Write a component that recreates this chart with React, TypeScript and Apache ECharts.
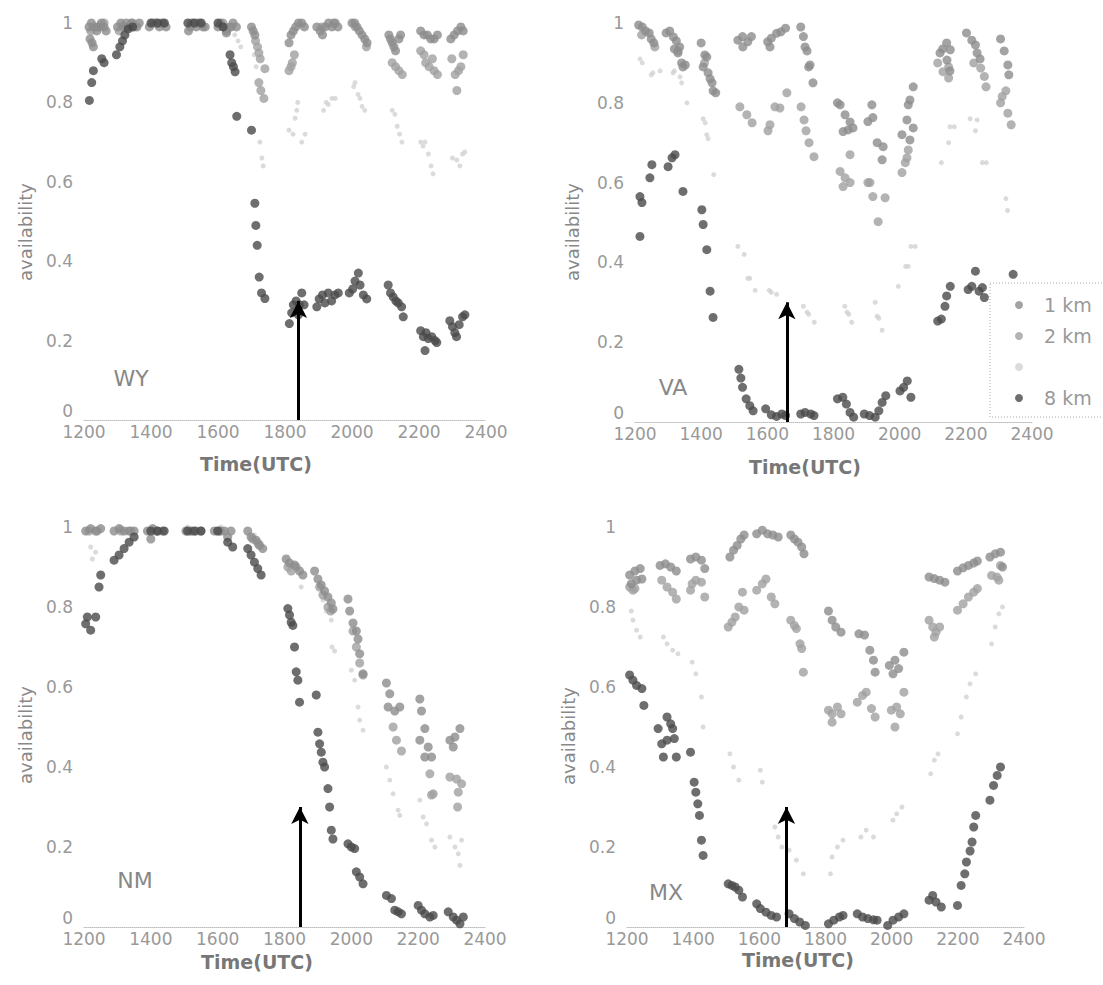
import React, { useEffect, useRef } from "react";
import * as echarts from "echarts";

// ---------- data (time in HHMM UTC, availability 0..1) ----------
const seriesNames = ["1 km", "2 km", " ", "8 km"];
const panelNames = ["WY", "VA", "NM", "MX"];
const arrowX = [1840, 1659, 1846, 1682];
const arrowTop = [0.3, 0.3, 0.3, 0.3];

const wy1 = [[1215,0.99],[1222,1.0],[1230,0.99],[1238,0.98],[1245,0.99],[1252,1.0],[1260,0.99],[1266,0.98],[1218,0.96],[1224,0.95],[1228,0.94],
[1300,0.99],[1310,1.0],[1318,0.99],[1326,1.0],[1334,0.99],[1342,1.0],[1350,0.99],[1358,0.99],[1365,1.0],
[1395,0.99],[1405,1.0],[1415,1.0],[1425,0.99],[1435,1.0],[1445,0.99],
[1512,0.98],[1518,0.99],[1525,1.0],[1535,0.99],[1545,1.0],[1555,0.99],[1562,0.99],
[1600,0.99],[1608,1.0],[1618,0.99],[1626,0.98],[1635,0.99],[1645,1.0],[1655,0.99],[1625,0.975],
[1700,0.99],[1705,0.98],[1710,0.97],
[1812,0.95],[1818,0.97],[1825,0.98],[1832,0.99],[1840,1.0],[1850,1.0],[1858,0.99],
[1895,0.99],[1905,0.98],[1912,0.97],[1920,0.99],[1930,1.0],[1940,0.99],[1950,1.0],[1958,0.99],
[2000,1.0],[2008,1.0],[2015,0.99],[2022,0.98],[2030,0.97],[2038,0.96],[2045,0.95],
[2110,0.97],[2115,0.96],[2120,0.95],[2125,0.94],[2130,0.93],[2140,0.96],[2145,0.97],
[2205,0.98],[2215,0.97],[2225,0.97],[2235,0.96],[2245,0.96],[2255,0.97],
[2295,0.96],[2305,0.97],[2315,0.98],[2325,0.99],[2332,0.98]];
const wy2 = [[1220,0.98],[1240,0.99],[1260,1.0],[1305,0.98],[1325,0.99],[1345,1.0],[1410,1.0],[1430,1.0],[1520,1.0],[1540,1.0],[1615,1.0],[1640,0.99],
[1712,0.955],[1718,0.94],[1722,0.925],[1726,0.91],[1740,0.885],[1722,0.85],[1728,0.83],[1737,0.81],
[1812,0.88],[1818,0.89],[1822,0.90],[1828,0.92],
[1910,0.99],[1945,1.0],[2010,0.99],[2043,0.94],
[2120,0.90],[2130,0.89],[2140,0.88],[2150,0.87],
[2205,0.93],[2215,0.92],[2220,0.90],[2230,0.89],[2240,0.91],[2245,0.88],[2255,0.87],
[2298,0.91],[2332,0.92],[2318,0.88],[2308,0.87],[2313,0.83],[2325,0.89]];
const wy4 = [[1215,0.98],[1228,0.99],[1245,1.0],[1310,1.0],[1335,1.0],[1410,1.0],[1430,1.0],[1520,1.0],[1545,1.0],[1610,1.0],[1632,0.99],[1650,0.97],[1660,0.955],[1668,0.94],[1708,0.92],[1714,0.89],[1725,0.70],[1731,0.66],[1735,0.64],
[1812,0.73],[1824,0.72],[1830,0.76],[1835,0.78],[1838,0.80],[1850,0.70],[1860,0.72],
[1915,0.78],[1923,0.80],[1929,0.795],[1940,0.81],[1950,0.81],
[2005,0.84],[2009,0.85],[2018,0.82],[2024,0.81],[2030,0.79],[2038,0.78],
[2120,0.78],[2128,0.77],[2135,0.74],[2142,0.72],[2149,0.70],
[2205,0.70],[2212,0.69],[2218,0.70],[2228,0.67],[2236,0.64],[2242,0.62],
[2300,0.66],[2313,0.655],[2322,0.64],[2330,0.67],[2337,0.675]];
const wy8 = [[1216,0.805],[1223,0.85],[1228,0.88],[1253,0.91],[1260,0.90],[1297,0.92],[1307,0.94],[1315,0.955],[1322,0.97],[1332,0.985],[1345,0.99],[1400,1.0],[1420,1.0],[1440,1.0],[1510,1.0],[1530,1.0],[1550,1.0],[1600,1.0],[1615,0.99],
[1636,0.92],[1641,0.90],[1646,0.89],[1651,0.877],[1656,0.765],[1700,0.73],[1710,0.546],[1713,0.49],[1717,0.44],[1723,0.36],[1730,0.32],[1740,0.306],
[1813,0.243],[1820,0.27],[1825,0.29],[1833,0.30],[1840,0.265],[1843,0.29],[1850,0.32],[1857,0.29],
[1895,0.285],[1902,0.305],[1912,0.315],[1919,0.295],[1929,0.32],[1939,0.30],[1949,0.315],[1959,0.32],
[1992,0.32],[2002,0.33],[2009,0.35],[2019,0.37],[2024,0.34],[2034,0.315],[2044,0.305],
[2108,0.34],[2115,0.32],[2123,0.31],[2131,0.30],[2138,0.295],[2148,0.285],[2153,0.26],
[2205,0.225],[2213,0.21],[2218,0.175],[2221,0.22],[2228,0.205],[2238,0.21],[2248,0.20],[2253,0.195],
[2292,0.25],[2300,0.235],[2307,0.22],[2312,0.21],[2320,0.24],[2330,0.26],[2337,0.265]];

const va1 = [[1211,0.995],[1222,0.99],[1232,0.98],[1243,0.975],[1249,0.96],[1257,0.95],
[1294,0.975],[1305,0.98],[1316,0.965],[1325,0.955],[1335,0.94],[1319,0.935],[1330,0.925],[1341,0.90],[1345,0.89],[1352,0.895],
[1400,0.95],[1411,0.92],[1417,0.915],[1406,0.89],[1421,0.875],[1427,0.86],[1433,0.85],[1436,0.83],[1444,0.825],
[1511,0.957],[1525,0.966],[1541,0.953],[1552,0.966],[1526,0.94],
[1601,0.953],[1608,0.94],[1612,0.962],[1628,0.974],[1641,0.978],[1655,0.987],
[1701,0.99],[1709,0.966],[1714,0.94],[1720,0.93],[1725,0.89],[1729,0.895],[1738,0.85],
[1812,0.80],[1820,0.795],[1835,0.77],[1850,0.752],[1844,0.732],[1829,0.728],[1859,0.737],
[1916,0.795],[1919,0.763],[1904,0.753],[1932,0.70],[1950,0.69],[1947,0.657],
[2007,0.72],[2031,0.707],[2022,0.757],[2041,0.737],[2041,0.84],[2031,0.807],[2026,0.795],
[2122,0.925],[2130,0.935],[2142,0.95],[2153,0.933],[2143,0.907],[2152,0.88],
[2202,0.975],[2218,0.957],[2229,0.945],[2234,0.925],[2243,0.91],
[2305,0.96],[2316,0.93],[2327,0.895],[2330,0.87]];
const va2 = [[1220,0.97],[1260,0.94],[1330,0.93],[1410,0.90],
[1517,0.79],[1538,0.77],[1554,0.75],[1608,0.745],[1602,0.73],[1623,0.79],[1638,0.787],[1659,0.825],
[1702,0.79],[1711,0.757],[1717,0.73],[1726,0.70],[1741,0.665],
[1820,0.628],[1835,0.612],[1850,0.60],[1829,0.59],[1850,0.67],
[1904,0.60],[1910,0.60],[1919,0.565],[1956,0.562],[1935,0.502],
[2007,0.625],[2017,0.65],[2022,0.662],[2026,0.682],
[2115,0.90],[2131,0.878],[2148,0.862],[2148,0.89],
[2224,0.90],[2245,0.887],[2256,0.866],[2261,0.84],
[2310,0.816],[2321,0.83],[2305,0.80],[2327,0.774],[2337,0.745]];
const va4 = [[1215,0.91],[1222,0.90],[1249,0.87],[1254,0.875],[1276,0.88],[1315,0.875],[1319,0.88],[1336,0.865],[1341,0.85],[1357,0.80],[1406,0.76],[1412,0.75],[1417,0.72],[1421,0.71],[1438,0.62],
[1511,0.44],[1530,0.42],[1541,0.36],[1547,0.36],[1563,0.33],[1606,0.33],[1612,0.325],[1628,0.32],[1709,0.29],[1720,0.275],[1725,0.27],[1742,0.25],
[1834,0.29],[1841,0.275],[1846,0.27],[1855,0.25],[1926,0.30],[1932,0.265],[1937,0.26],[1947,0.23],
[1996,0.34],[2018,0.39],[2026,0.39],[2034,0.44],[2047,0.44],
[2126,0.65],[2148,0.70],[2152,0.74],[2165,0.74],[2213,0.76],[2229,0.73],[2234,0.757],[2250,0.65],[2262,0.65],[2321,0.56],[2326,0.53]];
const va8 = [[1215,0.565],[1221,0.55],[1215,0.465],[1245,0.612],[1251,0.645],[1300,0.64],[1312,0.662],[1321,0.67],[1345,0.578],
[1402,0.532],[1406,0.495],[1417,0.432],[1427,0.328],[1436,0.262],
[1514,0.132],[1520,0.11],[1525,0.087],[1536,0.058],[1547,0.041],[1557,0.028],
[1595,0.033],[1612,0.018],[1628,0.014],[1644,0.02],[1655,0.016],
[1701,0.02],[1714,0.024],[1731,0.02],[1741,0.016],
[1812,0.058],[1828,0.062],[1839,0.045],[1850,0.024],[1861,0.012],
[1893,0.02],[1909,0.016],[1926,0.012],[1937,0.028],[1947,0.049],[1958,0.066],
[2001,0.078],[2012,0.087],[2023,0.103],[2034,0.062],
[2115,0.253],[2126,0.258],[2137,0.29],[2142,0.316],[2153,0.34],
[2207,0.332],[2218,0.34],[2229,0.378],[2240,0.328],[2250,0.337],[2256,0.312],
[2343,0.37]];

const nm1 = [[1205,0.99],[1220,0.996],[1235,0.99],[1250,0.996],
[1290,0.99],[1305,0.996],[1320,0.99],[1335,0.99],[1350,0.99],
[1390,0.99],[1405,0.996],[1420,0.99],[1435,0.99],[1400,0.97],
[1505,0.99],[1520,0.99],[1535,0.99],[1550,0.99],
[1590,0.99],[1605,0.99],[1620,0.99],[1640,0.99],[1630,0.975],
[1690,0.99],[1700,0.975],[1715,0.967],[1725,0.954],[1735,0.946],
[1805,0.92],[1815,0.91],[1830,0.905],[1845,0.89],[1855,0.88],
[1890,0.89],[1900,0.87],[1910,0.855],[1920,0.84],[1930,0.825],[1940,0.81],[1945,0.795],
[1990,0.82],[1995,0.79],[2005,0.76],[2015,0.74],[2020,0.72],[2025,0.683],[2035,0.633],
[2105,0.61],[2115,0.583],[2110,0.55],[2130,0.54],[2145,0.55],
[2205,0.57],[2210,0.54],[2220,0.496],[2205,0.467],[2230,0.45],[2220,0.425],[2240,0.425],
[2295,0.467],[2310,0.475],[2325,0.496],[2305,0.45]];
const nm2 = [[1215,0.99],[1240,0.99],[1310,0.99],[1340,0.99],[1415,0.99],[1520,0.99],[1610,0.99],
[1705,0.97],[1720,0.96],[1810,0.90],[1820,0.89],[1835,0.90],
[1905,0.85],[1915,0.83],[1930,0.80],[1938,0.79],
[2005,0.74],[2015,0.70],[2025,0.66],[2035,0.63],
[2125,0.50],[2135,0.467],[2150,0.44],
[2235,0.383],[2245,0.333],[2240,0.33],
[2295,0.375],[2315,0.37],[2330,0.358],[2320,0.337],[2318,0.30]];
const nm4 = [[1220,0.95],[1235,0.937],[1225,0.92],[1310,1.0],[1410,1.0],[1510,1.0],[1610,1.0],[1710,0.98],[1730,0.96],
[1840,0.90],[1850,0.85],[1915,0.817],[1925,0.79],[1940,0.767],[1942,0.70],[1950,0.69],
[2000,0.642],[2010,0.617],[2020,0.55],[2025,0.517],[2035,0.492],
[2105,0.40],[2115,0.367],[2125,0.333],[2140,0.292],[2145,0.279],
[2205,0.317],[2215,0.275],[2225,0.258],[2240,0.217],[2250,0.20],
[2295,0.225],[2310,0.20],[2320,0.183],[2330,0.217],[2325,0.154]];
const nm8 = [[1205,0.758],[1210,0.775],[1220,0.742],[1235,0.775],[1245,0.85],[1250,0.88],
[1290,0.917],[1305,0.93],[1320,0.946],[1335,0.962],[1350,0.975],
[1400,0.99],[1420,0.99],[1440,0.99],[1510,0.99],[1530,0.99],[1550,0.99],[1600,0.99],[1630,0.962],[1645,0.95],
[1690,0.946],[1700,0.93],[1710,0.912],[1720,0.896],[1730,0.88],
[1810,0.796],[1815,0.78],[1820,0.762],[1825,0.754],[1830,0.70],[1835,0.638],[1840,0.617],[1845,0.562],[1895,0.58],
[1900,0.487],[1905,0.458],[1910,0.437],[1915,0.412],[1920,0.40],[1930,0.346],[1935,0.30],[1940,0.242],[1945,0.22],
[1990,0.208],[2000,0.20],[2010,0.196],[2015,0.138],[2025,0.125],[2035,0.108],
[2105,0.079],[2120,0.071],[2130,0.042],[2140,0.038],[2150,0.033],
[2200,0.054],[2210,0.042],[2220,0.033],[2235,0.025],[2245,0.029],
[2290,0.038],[2305,0.025],[2315,0.017],[2325,0.008],[2335,0.025]];

const mx1 = [[1208,0.88],[1224,0.89],[1240,0.896],[1213,0.858],[1229,0.867],[1245,0.87],
[1300,0.904],[1316,0.908],[1332,0.90],[1349,0.89],
[1392,0.92],[1408,0.925],[1425,0.917],[1435,0.896],
[1511,0.925],[1522,0.942],[1533,0.954],[1544,0.97],[1554,0.98],
[1592,0.983],[1609,0.992],[1625,0.983],[1641,0.98],[1657,0.975],
[1695,0.98],[1706,0.97],[1717,0.962],[1728,0.95],[1735,0.933],
[1809,0.79],[1820,0.767],[1831,0.75],[1847,0.737],
[1901,0.733],[1918,0.73],[1934,0.692],[1945,0.667],[1950,0.637],
[1993,0.654],[2004,0.633],[2010,0.667],[2021,0.646],[2037,0.687],
[2113,0.875],[2129,0.871],[2145,0.867],[2161,0.862],
[2199,0.89],[2216,0.898],[2232,0.904],[2248,0.91],[2259,0.915],
[2297,0.925],[2313,0.933],[2329,0.937],[2335,0.90]];
const mx2 = [[1208,0.85],[1218,0.842],[1224,0.846],
[1305,0.867],[1321,0.85],[1338,0.837],[1349,0.82],
[1392,0.842],[1397,0.858],[1408,0.867],[1425,0.862],[1435,0.825],
[1506,0.75],[1517,0.762],[1527,0.775],[1538,0.80],[1549,0.837],[1554,0.792],
[1592,0.842],[1609,0.858],[1620,0.87],[1636,0.825],[1647,0.808],
[1695,0.767],[1706,0.754],[1712,0.746],[1723,0.708],[1728,0.696],[1733,0.637],
[1809,0.542],[1820,0.533],[1836,0.55],[1847,0.533],[1820,0.512],
[1896,0.562],[1912,0.579],[1923,0.587],[1939,0.546],[1950,0.525],
[1999,0.542],[2010,0.50],[2015,0.55],[2026,0.533],[2037,0.587],
[2113,0.767],[2124,0.75],[2129,0.725],[2134,0.737],[2145,0.75],
[2199,0.792],[2216,0.808],[2232,0.825],[2248,0.837],[2259,0.846],
[2302,0.879],[2318,0.875],[2324,0.867],[2329,0.904]];
const mx4 = [[1213,0.79],[1218,0.767],[1229,0.742],[1240,0.725],[1310,0.725],[1321,0.708],[1338,0.692],[1354,0.683],
[1397,0.662],[1408,0.633],[1425,0.575],[1430,0.50],
[1511,0.433],[1522,0.40],[1538,0.367],[1603,0.392],[1609,0.362],
[1647,0.25],[1657,0.225],[1668,0.20],[1690,0.192],[1712,0.167],[1733,0.133],
[1815,0.133],[1820,0.175],[1836,0.20],[1853,0.217],[1907,0.225],[1923,0.242],[1945,0.225],[2004,0.267],[2015,0.283],[2031,0.30],
[2118,0.383],[2129,0.417],[2140,0.433],[2199,0.483],[2210,0.525],[2226,0.575],[2237,0.608],[2254,0.633],
[2302,0.708],[2313,0.75],[2324,0.783],[2335,0.80]];
const mx8 = [[1208,0.63],[1218,0.617],[1229,0.604],[1245,0.596],[1251,0.554],
[1294,0.496],[1321,0.525],[1332,0.508],[1338,0.496],[1305,0.458],[1321,0.467],[1343,0.471],[1310,0.425],[1349,0.425],
[1392,0.437],
[1403,0.362],[1408,0.337],[1414,0.308],[1419,0.279],[1425,0.217],[1430,0.179],
[1506,0.108],[1517,0.104],[1527,0.10],[1538,0.092],[1549,0.075],
[1592,0.058],[1603,0.046],[1620,0.037],[1636,0.029],[1652,0.025],
[1690,0.033],[1706,0.021],[1722,0.0125],[1739,0.004],
[1809,0.008],[1825,0.017],[1842,0.025],[1853,0.029],
[1896,0.033],[1912,0.025],[1928,0.021],[1945,0.018],[1956,0.017],
[1988,0.004],[2004,0.017],[2021,0.025],[2037,0.033],
[2113,0.067],[2124,0.079],[2134,0.0625],[2150,0.05],
[2199,0.054],
[2210,0.104],[2221,0.133],[2226,0.1625],[2237,0.19],[2243,0.2125],[2248,0.25],[2254,0.279],
[2297,0.317],[2308,0.354],[2319,0.379],[2329,0.40]];

const panelData = [
  [wy1, wy2, wy4, wy8],
  [va1, va2, va4, va8],
  [nm1, nm2, nm4, nm8],
  [mx1, mx2, mx4, mx8],
];

// ---------- layout / style ----------
const gridBoxes = [
  { left: 84, top: 23, width: 402, height: 397 },
  { left: 635, top: 23, width: 397, height: 399 },
  { left: 84, top: 527, width: 401, height: 400 },
  { left: 627, top: 527, width: 397, height: 400 },
];
const panelLabelPos = [[131, 378], [673, 387], [135, 880], [666, 892]];
const yTitlePos = [[25, 232], [572, 232], [25, 735], [568, 736]];
const xTitlePos = [[256, 464], [805, 467], [257, 962], [798, 960]];

const colors: Record<string, string> = { "1 km": "#8c8c8c", "2 km": "#a0a0a0", " ": "#d2d2d2", "8 km": "#4a4a4a" };
const sizes: Record<string, number> = { "1 km": 9, "2 km": 9, " ": 5, "8 km": 9 };
const FONT = "DejaVu Sans";

export default function App() {
  const ref = useRef<HTMLDivElement>(null);
  useEffect(() => {
    if (!ref.current) return;
    const chart = echarts.init(ref.current, undefined, { renderer: "svg" });
    const grid = gridBoxes.map((g) => ({ ...g, containLabel: false }));
    const xAxis = gridBoxes.map((_, i) => ({
      type: "value", gridIndex: i, min: 1200, max: 2400, interval: 200,
      axisLine: { show: true, onZero: false, lineStyle: { color: "#bbb", type: "dotted", width: 1 } },
      axisTick: { show: false }, splitLine: { show: false },
      axisLabel: { color: "#999", fontSize: 17, fontFamily: FONT, margin: 3, formatter: (v: number) => String(v) },
    }));
    const yAxis = gridBoxes.map((_, i) => ({
      type: "value", gridIndex: i, min: 0, max: 1, interval: 0.2,
      axisLine: { show: false }, axisTick: { show: false }, splitLine: { show: false },
      axisLabel: { color: "#999", fontSize: 17, fontFamily: FONT, margin: 11,
        formatter: (v: number) => (v === 0 ? "" : String(Math.round(v * 10) / 10)) },
    }));
    const order = [2, 1, 0, 3]; // draw faint first, dark last
    const series: any[] = [];
    panelData.forEach((sets, i) => {
      order.forEach((k) => {
        const name = seriesNames[k];
        const s: any = {
          type: "scatter", name, xAxisIndex: i, yAxisIndex: i,
          data: sets[k], symbol: "circle", symbolSize: sizes[name],
          itemStyle: { color: colors[name] }, emphasis: { disabled: true },
        };
        if (k === 3) {
          s.markLine = {
            silent: true, symbol: ["none", "arrow"], symbolSize: [13, 17],
            label: { show: false },
            lineStyle: { color: "#000", width: 3, type: "solid" },
            data: [[{ coord: [arrowX[i], 0] }, { coord: [arrowX[i], arrowTop[i]] }]],
          };
        }
        series.push(s);
      });
    });
    const graphic: any[] = [
      { type: "rect", shape: { x: 990, y: 283, width: 200, height: 134 },
        style: { fill: "none", stroke: "#aaa", lineWidth: 1, lineDash: [1, 2] } },
    ];
    panelNames.forEach((n, i) => {
      const g = gridBoxes[i];
      graphic.push({ type: "text", x: g.left - 11, y: g.top + g.height - 9,
        style: { text: "0", fill: "#999", fontSize: 17, fontFamily: FONT, align: "right", verticalAlign: "middle" } });
      graphic.push({ type: "text", x: panelLabelPos[i][0], y: panelLabelPos[i][1],
        style: { text: n, fill: "#888", fontSize: 22, fontFamily: FONT, align: "center", verticalAlign: "middle" } });
      graphic.push({ type: "text", x: yTitlePos[i][0], y: yTitlePos[i][1], rotation: Math.PI / 2,
        style: { text: "availability", fill: "#888", fontSize: 18, fontFamily: FONT, align: "center", verticalAlign: "middle" } });
      graphic.push({ type: "text", x: xTitlePos[i][0], y: xTitlePos[i][1],
        style: { text: "Time(UTC)", fill: "#777", fontSize: 19, fontWeight: "bold", fontFamily: FONT, align: "center", verticalAlign: "middle" } });
    });
    chart.setOption({
      animation: false,
      backgroundColor: "#fff",
      grid, xAxis, yAxis, series, graphic,
      legend: {
        orient: "vertical", left: 1015, top: 295, padding: 0,
        data: ["1 km", "2 km", " ", "8 km"],
        icon: "circle", itemWidth: 40, itemHeight: 8, itemGap: 11,
        selectedMode: false,
        textStyle: { color: "#999", fontSize: 19, fontFamily: FONT, lineHeight: 20 },
      },
    });
    return () => chart.dispose();
  }, []);
  return <div ref={ref} style={{ position: "absolute", left: 0, top: 0, width: 1103, height: 985 }} />;
}
